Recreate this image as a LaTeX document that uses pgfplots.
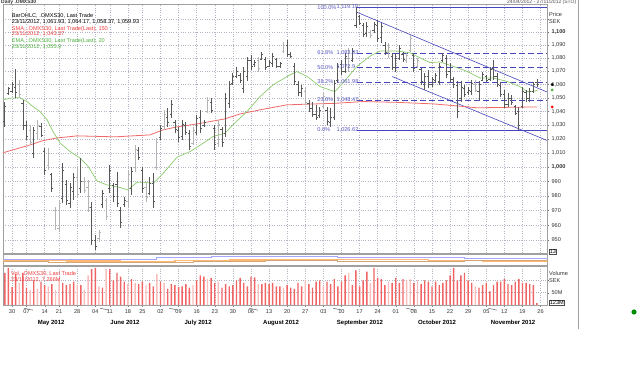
\documentclass[border=0pt]{standalone}
\usepackage{pgfplots}
\pgfplotsset{compat=1.18}
\usepackage{pgfplotstable}
\usepackage{fontspec}
\setmainfont{Liberation Sans}

\definecolor{bardark}{HTML}{585858}
\definecolor{barlight}{HTML}{B4B4B4}
\definecolor{smared}{HTML}{F06A6A}
\definecolor{emagreen}{HTML}{8CCB6E}
\definecolor{fibblue}{HTML}{4545BE}
\definecolor{fibtxt}{HTML}{5555C0}
\definecolor{volred}{HTML}{F06464}
\definecolor{volpink}{HTML}{F9BDBD}
\definecolor{gridc}{HTML}{B4B4C4}
\definecolor{txtred}{HTML}{F03C3C}
\definecolor{txtgreen}{HTML}{4CB03C}
\definecolor{framec}{HTML}{A0A0A0}
\newcommand{\sz}{\fontsize{5.6}{6.4}\selectfont}

\pgfplotstableread{
i h l o c v
-2 1047.3 1029.0 1033 1044 130
-1 1058.4 1052.2 1053.5 1057 150
0 1061.9 1053.7 1055 1060 72
1 1071.6 1050.0 1058 1054 125
3 1048.5 1026.6 1046 1030 130
4 1032.7 1019.4 1030 1022 70
6 1029.0 1006.6 1010 1026 100
8 1031.7 1021.6 1029 1023 95
9 1013.7 994.6 1011 998 80
11 996.0 982.7 995 985 85
14 1003.0 975.2 978 998 90
15 991.1 973.8 988 977 80
16 989.0 971.8 975 986 85
17 996.0 977.2 983 993 95
19 1006.6 982.1 985 990 80
22 975.8 946.7 972 950 145
23 953.4 943.4 950 946 150
25 984.1 971.8 974 982 70
27 1001.6 982.1 985 998 145
28 989.0 975.8 987 980 100
29 996.7 972.4 988 975 130
30 972.4 958.2 970 962 115
31 979.3 972.4 974 977 95
33 1000.2 980.7 985 997 105
35 1014.4 1005.2 1012 1007 85
36 1000.2 982.1 998 985 95
38 993.2 980.7 982 989 90
39 996.0 971.8 989 976 75
41 1030.2 1019.4 1021 1028 95
43 1042.7 1028.8 1036 1032 65
44 1048.5 1035.3 1038 1045 85
45 1033.9 1024.4 1032 1027 80
46 1028.8 1018.0 1026 1021 72
47 1033.9 1019.4 1022 1031 75
48 1032.4 1023.0 1030 1025 85
49 1026.6 1012.3 1024 1015 70
51 1037.5 1023.0 1025 1035 100
52 1041.2 1024.4 1036 1028 120
53 1033.9 1028.8 1030 1032 115
55 1050.0 1038.9 1047 1041 110
56 1030.2 1012.3 1028 1016 90
58 1028.8 1014.4 1027 1018 70
59 1053.7 1021.6 1024 1050 85
60 1062.6 1042.7 1046 1060 75
61 1068.7 1059.7 1061 1066 80
62 1073.2 1064.9 1066 1070 100
63 1068.7 1061.2 1067 1063 110
64 1073.2 1053.7 1057 1070 90
65 1080.8 1062.6 1066 1078 75
66 1082.3 1070.9 1078 1074 115
67 1078.5 1073.2 1075 1077 112
69 1084.6 1078.5 1079 1083 85
70 1080.8 1070.9 1079 1073 90
71 1078.5 1073.2 1074 1077 85
72 1083.8 1073.2 1076 1081 90
73 1080.0 1072.4 1079 1074 75
74 1077.0 1072.4 1074 1076 75
76 1093.8 1080.8 1090 1083 80
77 1084.6 1080.0 1083 1081 70
78 1076.2 1059.7 1074 1062 65
79 1062.6 1051.4 1060 1054 90
80 1059.7 1050.7 1054 1057 75
82 1048.5 1039.7 1046 1042 85
83 1047.0 1036.1 1042 1038 70
84 1044.9 1033.9 1038 1036 95
85 1043.4 1035.3 1037 1041 100
87 1043.4 1030.2 1041 1033 95
88 1042.7 1028.8 1032 1036 85
89 1063.4 1033.9 1036 1061 105
90 1076.2 1061.2 1063 1074 75
91 1078.5 1067.2 1075 1070 95
92 1083.8 1068.7 1070 1081 120
94 1087.7 1077.0 1078 1085 80
95 1119.19 1103.1 1105 1115 140
96 1113.3 1105.4 1112 1107 75
97 1107.0 1096.1 1105 1098 100
98 1107.8 1096.1 1099 1104 135
100 1107.8 1099.2 1101 1106 150
101 1109.3 1092.3 1105 1095 110
102 1107.0 1091.5 1096 1104 105
103 1092.3 1082.3 1090 1084 80
105 1083.8 1070.9 1081 1073 90
106 1083.8 1069.4 1073 1080 110
107 1090.0 1078.5 1080 1087 90
108 1084.6 1077.0 1083 1079 105
111 1083.8 1069.4 1082 1072 90
113 1072.4 1059.7 1071 1062 85
114 1068.7 1056.0 1060 1066 100
115 1070.9 1057.5 1066 1060 95
116 1065.7 1058.2 1060 1064 75
117 1068.7 1061.2 1063 1067 95
118 1076.2 1059.7 1062 1074 80
119 1083.8 1077.0 1078 1082 90
120 1082.3 1064.9 1080 1068 100
121 1076.2 1061.2 1070 1064 120
122 1065.7 1057.5 1064 1060 150
123 1062.6 1035.3 1059 1040 100
124 1062.6 1047.0 1050 1058 120
125 1059.7 1050.7 1057 1053 130
126 1058.2 1052.2 1054 1056 100
127 1063.4 1052.2 1055 1061 90
129 1062.6 1048.5 1055 1060 70
130 1069.4 1062.6 1063 1068 80
131 1067.2 1061.9 1066 1063 90
132 1073.2 1062.6 1064 1071 55
133 1078.5 1063.4 1072 1066 80
134 1068.7 1058.2 1066 1060 95
135 1061.9 1050.7 1059 1053 95
136 1056.0 1042.7 1053 1045 105
137 1053.7 1043.4 1045 1050 85
138 1052.2 1044.9 1050 1047 80
139 1044.9 1037.5 1044 1039 95
140 1043.4 1026.62 1040 1030 105
141 1058.2 1042.7 1044 1055 90
142 1056.0 1047.0 1054 1050 90
143 1057.5 1047.0 1050 1055 85
144 1061.9 1053.7 1055 1060 80
145 1064.17 1058.37 1061.93 1059.93 7.266
}\barsD

\pgfplotstableread{
i h l o c v
2 1063.4 1051.0 1060 1053 90
5 1030.2 1015.8 1026 1018 60
7 1033.9 1019.4 1024 1030 65
10 1013.7 998.1 1001 1010 75
12 972.4 956.8 970 960 60
13 977.2 955.4 958 975 105
18 1000.2 978.6 993 981 80
20 993.2 982.1 990 984 60
21 991.1 969.0 986 972 120
24 956.8 948.8 951 955 75
26 978.6 963.6 977 966 145
32 998.1 972.4 976 995 85
34 1015.8 996.7 1000 1013 90
37 989.0 975.8 986 979 80
40 1020.8 998.1 1000 1018 125
42 1041.2 1026.6 1029 1038 90
50 1028.8 1015.8 1017 1026 80
54 1050.7 1038.9 1040 1048 105
57 1033.9 1014.4 1017 1031 95
68 1080.8 1069.4 1078 1072 85
75 1092.3 1083.8 1085 1090 70
81 1057.5 1044.9 1055 1047 100
86 1053.7 1042.7 1044 1051 75
93 1087.7 1069.4 1080 1073 130
99 1101.6 1095.4 1100 1097 90
104 1091.5 1080.0 1084 1088 95
109 1083.8 1076.2 1078 1082 100
110 1097.7 1084.6 1086 1095 105
112 1080.0 1072.4 1074 1078 100
128 1063.4 1054.5 1060 1056 75
}\barsL

\pgfplotsset{
  weekticks/.style={xtick={0,4,9,13,18,23,27,32,36,41,46,51,56,61,66,71,76,81,86,91,96,101,106,111,116,121,126,131,136,141,146}},
  panel/.style={scale only axis, width=544pt, xmin=-2.5, xmax=147.78,
    axis line style={draw=framec}, clip=false},
  hl/.style={draw=none, mark=none, forget plot,
    error bars/.cd, y dir=both, y explicit, error mark=none,
    error bar style={draw=#1, line width=0.75pt, solid}},
  tickL/.style={draw=none, mark=none, forget plot,
    error bars/.cd, x dir=minus, x fixed=0.45, error mark=none,
    error bar style={draw=#1, line width=0.55pt, solid}},
  tickR/.style={draw=none, mark=none, forget plot,
    error bars/.cd, x dir=plus, x fixed=0.45, error mark=none,
    error bar style={draw=#1, line width=0.55pt, solid}},
}

\begin{document}
\begin{tikzpicture}[x=1pt,y=1pt]

% ---------------- price panel ----------------
\begin{axis}[panel, at={(3pt,126pt)}, anchor=south west, height=249pt,
  ymode=log, ymin=941.4, ymax=1121.9,
  weekticks, xticklabels={}, xtick style={draw=none},
  ytick={950,960,970,980,990,1000,1010,1020,1030,1040,1050,1060,1070,1080,1090,1100,1110},
  yticklabels={950,960,970,980,990,{\textbf{1,000}},{1,010},{1,020},{1,030},{1,040},{1,050},{1,060},{1,070},{1,080},{1,090},{\textbf{1,100}},{}},
  minor ytick={},
  yticklabel pos=right, ytick pos=right, tick align=outside, major tick length=2pt,
  ytick style={draw=black!55},
  yticklabel style={font=\sz, text=black!80, xshift=-1pt},
  grid=major, major grid style={draw=gridc, dotted, line width=0.45pt},
]
% fibonacci levels
\addplot[fibblue, line width=0.6pt] coordinates {(95.3,1119.19) (147.78,1119.19)};
\addplot[fibblue, line width=0.6pt, dash pattern=on 6pt off 3pt] coordinates {(95.3,1083.83) (147.78,1083.83)};
\addplot[fibblue, line width=0.6pt, dash pattern=on 6pt off 3pt] coordinates {(95.3,1072.9) (147.78,1072.9)};
\addplot[fibblue, line width=0.6pt, dash pattern=on 6pt off 3pt] coordinates {(95.3,1061.98) (147.78,1061.98)};
\addplot[fibblue, line width=0.6pt, dash pattern=on 6pt off 3pt] coordinates {(95.3,1048.47) (147.78,1048.47)};
\addplot[fibblue, line width=0.6pt] coordinates {(95.3,1026.62) (147.78,1026.62)};
% trend channel
\addplot[fibblue, line width=0.6pt] coordinates {(95.3,1115.3) (147.78,1054.4)};
\addplot[fibblue, line width=0.6pt] coordinates {(105,1065.9) (147.78,1019.0)};
% SMA 150
\addplot[smared, line width=0.8pt] coordinates {
(-2.5,1010.2) (5,1015.8) (8.6,1018.9) (12.4,1020.8) (18,1022.3) (28.5,1021.6)
(38.1,1023.0) (41.7,1026.6) (45.6,1028.8) (51.1,1030.9) (58.8,1034.6) (63,1038.2)
(68.5,1041.2) (76,1044.9) (89.2,1046.0) (97,1047.3) (106.4,1046.7) (116.3,1045.6)
(122.9,1044.1) (128.5,1042.7) (145,1043.37)};
% EMA 20
\addplot[emagreen, line width=0.7pt] coordinates {
(-2.5,1048.5) (-0.6,1049.8) (2.2,1050.2) (4.1,1047.3) (5.8,1043.6) (7.7,1040.0)
(9.7,1033.9) (11.3,1025.4) (13.3,1017.0) (16,1011.1) (18.8,1006.4) (21,1000.6)
(23.5,990.3) (26.2,987.6) (29.8,985.8) (32,984.1) (34.5,989.4) (36.2,989.4)
(39,988.7) (41.7,995.5) (45.6,1007.1) (49.2,1011.1) (52.8,1017.0) (55.5,1021.8)
(58.8,1024.2) (61,1030.2) (64.9,1040.0) (68.5,1051.0) (72.1,1059.7) (76,1066.0)
(78.7,1069.7) (81.5,1066.0) (85.1,1058.4) (89.2,1054.7) (91.4,1061.0) (95.3,1073.7)
(98.9,1081.3) (101.7,1085.3) (106.4,1085.3) (109.9,1083.9) (112.7,1080.1) (115.5,1076.4)
(118.2,1077.0) (121.8,1073.7) (125.7,1069.8) (129.3,1064.8) (132.9,1064.8) (136.7,1062.3)
(140.3,1058.4) (142.3,1054.7) (143.9,1054.7) (145.3,1055.9)};
% OHLC bars
\addplot[hl=barlight] table[x=i, y expr={(\thisrow{h}+\thisrow{l})/2}, y error expr={(\thisrow{h}-\thisrow{l})/2}] {\barsL};
\addplot[tickL=barlight] table[x=i, y=o] {\barsL};
\addplot[tickR=barlight] table[x=i, y=c] {\barsL};
\addplot[hl=bardark] table[x=i, y expr={(\thisrow{h}+\thisrow{l})/2}, y error expr={(\thisrow{h}-\thisrow{l})/2}] {\barsD};
\addplot[tickL=bardark] table[x=i, y=o] {\barsD};
\addplot[tickR=bardark] table[x=i, y=c] {\barsD};
% last-value markers on the price scale
\addplot[only marks, mark=*, mark size=1.2pt, black] coordinates {(149.2,1059.93)};
\addplot[only marks, mark=*, mark size=1.2pt, txtgreen] coordinates {(149.2,1055.9)};
\addplot[only marks, mark=*, mark size=1.2pt, red] coordinates {(149.2,1043.37)};
% fib labels
\foreach \p/\v/\lab in {100.0\%/1119.19/{1,119.19},61.8\%/1083.83/{1,083.83},50.0\%/1072.9/{1,072.9},38.2\%/1061.98/{1,061.98},23.6\%/1048.47/{1,048.47},0.0\%/1026.62/{1,026.62}}{
  \edef\temp{\noexpand\node[font=\noexpand\sz, text=fibtxt, anchor=west, inner sep=0pt] at (axis cs:84.3,\v) {\p};
  \noexpand\node[font=\noexpand\sz, text=fibtxt, anchor=west, inner sep=0pt] at (axis cs:89.6,\v) {\lab};}
  \temp
}
\end{axis}

% ---------------- indicator strip ----------------
\begin{axis}[panel, at={(3pt,114pt)}, anchor=south west, height=11pt,
  ymin=0, ymax=10, ticks=none]
\addplot[const plot, color=orange!55, line width=1.4pt] coordinates {
(-2.5,4.2) (15,3.6) (30,3.2) (45,4.2) (60,4.6) (80,5.2) (100,4.8) (115,4.0) (130,3.6) (147.78,3.8)};
\addplot[const plot, color=brown!70, line width=0.9pt] coordinates {
(-2.5,3.0) (10,2.5) (30,2.1) (50,3.4) (70,4.0) (90,3.4) (110,3.2) (125,4.4) (140,3.8) (147.78,3.5)};
\addplot[const plot, color=blue!35, line width=0.9pt] coordinates {
(-2.5,4.6) (20,4.6) (25,5.0) (40,6.6) (55,7.4) (70,7.5) (90,7.2) (110,7.0) (125,6.0) (147.78,5.6)};
\end{axis}

% ---------------- volume panel ----------------
\begin{axis}[panel, at={(3pt,74pt)}, anchor=south west, height=39pt,
  ymin=0, ymax=158,
  weekticks,
  xticklabels={30,07,14,21,28,04,11,18,25,02,09,16,23,30,06,13,20,27,03,10,17,24,01,08,15,22,29,05,12,19,26},
  xticklabel style={font=\sz, text=black!80, yshift=1pt},
  xtick pos=bottom, tick align=outside, major tick length=2pt,
  xtick style={draw=black!50},
  ytick={50,100}, yticklabels={50M,{}},
  yticklabel pos=right, ytick pos=right,
  yticklabel style={font=\sz, text=black!80, xshift=-1pt},
  ytick style={draw=black!55},
  grid=major, major grid style={draw=gridc, dotted, line width=0.45pt},
]
\addplot[ybar, bar width=1.4pt, fill=volred, draw=none] table[x=i, y=v] {\barsD};
\addplot[ybar, bar width=1.4pt, fill=volpink, draw=none] table[x=i, y=v] {\barsL};
% month labels and separators
\foreach \xm/\mname in {10.8/May 2012,31.2/June 2012,51.4/July 2012,74.3/August 2012,96.1/September 2012,117.4/October 2012,138.4/November 2012}{
  \edef\temp{\noexpand\node[font=\noexpand\bfseries\noexpand\fontsize{6}{7}\noexpand\selectfont, anchor=base] at (axis cs:\xm,0) [yshift=-19.5pt] {\mname};}
  \temp
}
\foreach \xs in {0.8,21.8,40.9,63,86.2,106.4,129}{
  \edef\temp{\noexpand\draw[black!60, line width=0.5pt] (axis cs:\xs,0) ++(0,-13) -- ++(0,-8);}
  \temp
}
\end{axis}

% ---------------- texts ----------------
\node[font=\bfseries\fontsize{5}{6}\selectfont, anchor=north west, inner sep=0pt, text=black!80] at (1,379) {Daily .OMXS30};
\node[font=\fontsize{5}{6}\selectfont, anchor=north west, inner sep=0pt, text=black!70] at (507,379) {24/04/2012 - 27/11/2012 (STO)};
\begin{scope}[every node/.style={font=\sz, anchor=west, inner sep=0pt}]
\node[text=black] at (11.7,363.3) {BarOHLC, .OMXS30, Last Trade};
\node[text=black] at (11.7,356.7) {23/11/2012, 1,061.93, 1,064.17, 1,058.37, 1,059.93};
\node[text=txtred] at (11.7,350) {SMA, .OMXS30, Last Trade(Last), 150};
\node[text=txtred] at (11.7,344.7) {23/11/2012, 1,043.37};
\node[text=txtgreen] at (11.7,338) {EMA, .OMXS30, Last Trade(Last), 20};
\node[text=txtgreen] at (11.7,332.3) {23/11/2012, 1,055.9};
\node[text=black!80] at (549,364) {Price};
\node[text=black!80] at (549,357) {SEK};
\node[text=txtred] at (11,105) {Vol, .OMXS30, Last Trade};
\node[text=txtred] at (11,99.5) {23/11/2012, 7.266M};
\node[text=black!80] at (549,105) {Volume};
\node[text=black!80] at (549,98) {SEK};
\end{scope}
\node[draw=black!70, font=\sz, inner sep=0.6pt, anchor=west, line width=0.4pt] at (549,127) {13};
\node[draw=black!70, font=\sz, inner sep=0.6pt, anchor=west, line width=0.4pt] at (549,76.5) {123M};
\draw[framec, line width=0.5pt] (578,379) -- (578,50);
\fill[green!55!black] (634,67) circle (2.6);

\pgfresetboundingbox
\useasboundingbox (0,0) rectangle (640,379);
\end{tikzpicture}
\end{document}
